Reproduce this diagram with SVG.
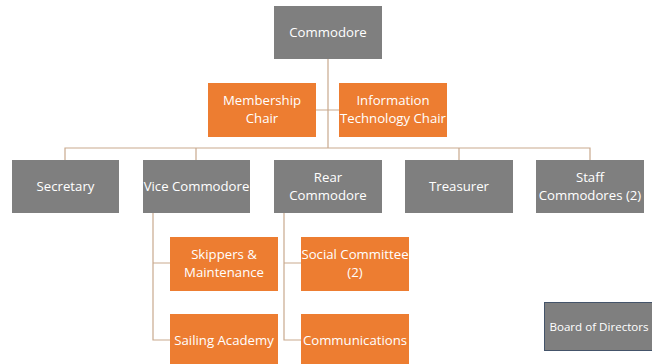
<svg xmlns="http://www.w3.org/2000/svg" width="652" height="364" viewBox="0 0 652 364">
<style>
.g{fill:#7f7f7f}
.o{fill:#ed7d31}
.t{font-family:"Open Sans","Liberation Sans",sans-serif;font-size:13.2px;fill:#ffffff;text-anchor:middle}
.c{stroke:#c9a98e;stroke-width:1.2;fill:none}
</style>
<rect width="652" height="364" fill="#ffffff"/>
<g id="connectors">
<path class="c" d="M328 59V148M316 110H339M65 160V148H590V160M196 148V160M459 148V160M153 213V340H170M153 263H170M284 213V340H301M284 263H301"/>
</g>
<g id="commodore"><rect class="g" x="274" y="6" width="108" height="53"/><text class="t" x="328" y="37">Commodore</text></g>
<g id="membership"><rect class="o" x="208" y="83" width="108" height="54"/><text class="t" x="262" y="105">Membership</text><text class="t" x="262" y="123">Chair</text></g>
<g id="infotech"><rect class="o" x="339" y="83" width="108" height="54"/><text class="t" x="393" y="105">Information</text><text class="t" x="393" y="123">Technology Chair</text></g>
<g id="secretary"><rect class="g" x="12" y="160" width="107" height="53"/><text class="t" x="65.5" y="191">Secretary</text></g>
<g id="vice"><rect class="g" x="143" y="160" width="107" height="53"/><text class="t" x="196.5" y="191">Vice Commodore</text></g>
<g id="rear"><rect class="g" x="274" y="160" width="108" height="53"/><text class="t" x="328" y="182">Rear</text><text class="t" x="328" y="200">Commodore</text></g>
<g id="treasurer"><rect class="g" x="405" y="160" width="108" height="53"/><text class="t" x="459" y="191">Treasurer</text></g>
<g id="staff"><rect class="g" x="536" y="160" width="108" height="53"/><text class="t" x="590" y="182">Staff</text><text class="t" x="590" y="200">Commodores (2)</text></g>
<g id="skippers"><rect class="o" x="170" y="237" width="108" height="54"/><text class="t" x="224" y="259">Skippers &amp;</text><text class="t" x="224" y="277">Maintenance</text></g>
<g id="sailing"><rect class="o" x="170" y="314" width="108" height="54"/><text class="t" x="224" y="345">Sailing Academy</text></g>
<g id="social"><rect class="o" x="301" y="237" width="108" height="54"/><text class="t" x="355" y="259">Social Committee</text><text class="t" x="355" y="277">(2)</text></g>
<g id="communications"><rect class="o" x="301" y="314" width="108" height="54"/><text class="t" x="355" y="345">Communications</text></g>
<g id="board"><rect class="g" x="544.5" y="302.5" width="110" height="48" stroke="#44546a" stroke-width="1"/><text class="t" x="599" y="331" style="font-size:11.6px">Board of Directors</text></g>
</svg>
